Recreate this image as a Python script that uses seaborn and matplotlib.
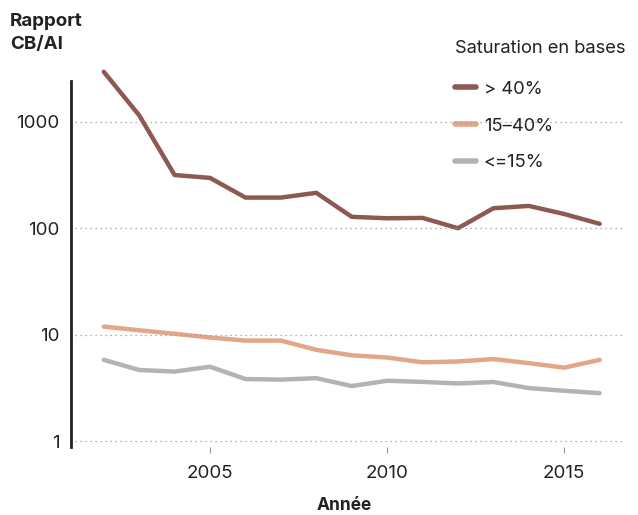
import numpy as np
import pandas as pd
import matplotlib
matplotlib.use("Agg")
import matplotlib.pyplot as plt
import seaborn as sns

years = list(range(2002, 2017))
high_sat = [2950, 1150, 316, 297, 194, 194, 215, 128, 124, 125, 100, 154, 162, 136, 110]
mid_sat = [11.9, 11.0, 10.2, 9.4, 8.8, 8.8, 7.2, 6.4, 6.1, 5.5, 5.6, 5.9, 5.4, 4.9, 5.8]
low_sat = [5.8, 4.66, 4.5, 5.0, 3.83, 3.78, 3.9, 3.29, 3.69, 3.6, 3.48, 3.59, 3.15, 2.97, 2.82]
series_labels = ["> 40%", "15–40%", "<=15%"]
series_colors = ["#8c5a52", "#e2a688", "#b3b3b3"]
y_ticks = [1, 10, 100, 1000]
x_ticks = [2005, 2010, 2015]

df = pd.DataFrame({
    "Année": years * 3,
    "Rapport": high_sat + mid_sat + low_sat,
    "Saturation": sum([[lab] * len(years) for lab in series_labels], []),
})

sns.set_theme(style="white")
plt.rcParams["font.family"] = ["Inter", "DejaVu Sans"]

fig = plt.figure(figsize=(6.38, 5.15), dpi=100)
ax = fig.add_axes([0.111, 0.132, 0.865, 0.744])

sns.lineplot(data=df, x="Année", y="Rapport", hue="Saturation",
             hue_order=series_labels, palette=series_colors,
             linewidth=3.2, ax=ax, clip_on=False, zorder=3)

ax.set_yscale("log")
ax.set_ylim(0.88, 3500)
ax.set_xlim(2001.07, 2016.65)

for v in y_ticks:
    ax.axhline(v, color="#999999", lw=0.9, ls=(0, (1, 3)), zorder=5,
               xmin=0.008, xmax=1.0)

ax.set_yticks(y_ticks)
ax.set_yticklabels([str(v) for v in y_ticks])
ax.yaxis.set_minor_locator(matplotlib.ticker.NullLocator())
ax.set_xticks(x_ticks)
ax.set_xticklabels([str(v) for v in x_ticks])
ax.tick_params(axis="y", length=0, labelsize=13.5, colors="#222222", pad=8)
ax.tick_params(axis="x", length=4, width=0.8, color="#999999",
               labelsize=13.5, labelcolor="#222222", pad=9, bottom=True)

for s in ["top", "right", "bottom"]:
    ax.spines[s].set_visible(False)
ax.spines["left"].set_color("#222222")
ax.spines["left"].set_linewidth(2)
ax.spines["left"].set_bounds(0.88, 2430)

ax.set_xlabel("Année", fontsize=12.5, fontweight="bold", color="#222222")
ax.xaxis.set_label_coords(0.495, -0.13)
ax.set_ylabel("")
fig.text(0.016, 0.975, "Rapport\nCB/AI", fontsize=13.5, fontweight="bold",
         color="#222222", va="top", ha="left", linespacing=1.5)

handles, labels = ax.get_legend_handles_labels()
leg = ax.legend(handles, labels, title="Saturation en bases", frameon=False,
                loc="upper left", bbox_to_anchor=(0.688, 0.954),
                bbox_transform=fig.transFigure,
                fontsize=13.2, title_fontsize=13.2, handlelength=1.1,
                handletextpad=0.45, labelspacing=1.08, alignment="left",
                borderpad=0.4)
leg.get_title().set_color("#222222")
leg._legend_box.sep = 17
for t in leg.get_texts():
    t.set_color("#222222")
for h in leg.legend_handles:
    h.set_linewidth(4)
leg.set_zorder(2)

fig.savefig("out.png", dpi=100)
